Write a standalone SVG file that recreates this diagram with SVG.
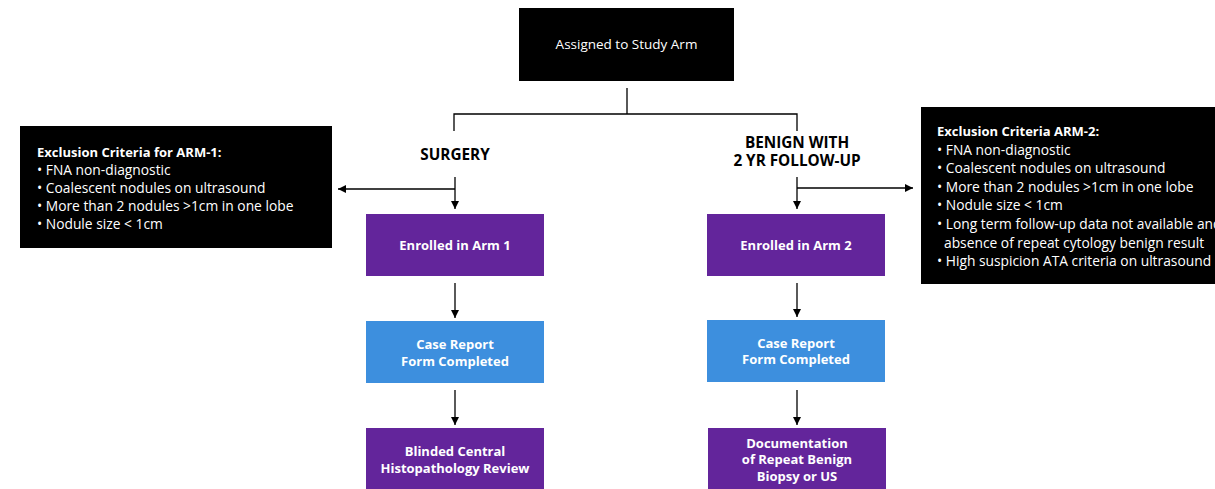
<svg xmlns="http://www.w3.org/2000/svg" width="1215" height="489" viewBox="0 0 1215 489">
<defs>
<marker id="ah" markerWidth="8" markerHeight="8" refX="8" refY="4" orient="auto" markerUnits="userSpaceOnUse"><path d="M0,0 L8,4 L0,8 Z" fill="#000"/></marker>
<style>
.blk{fill:#000}
.pur{fill:#63259b}
.blu{fill:#3d8fde}
.t{font-family:"Open Sans","Liberation Sans",Arial,sans-serif;font-size:13px;fill:#fff}
.e{font-size:13.8px}
.b{font-weight:bold;font-size:13px}
.c{text-anchor:middle}
.h{font-family:"Open Sans","Liberation Sans",Arial,sans-serif;font-size:15.3px;font-weight:bold;fill:#000;text-anchor:middle}
.ln{stroke:#000;stroke-width:1.3;fill:none}
</style>
</defs>
<rect width="1215" height="489" fill="#fff"/>
<g id="connectors">
<path class="ln" d="M627,88 V114 M454,131 V114 H797 V131"/>
<path class="ln" d="M455,177 V209" marker-end="url(#ah)"/>
<path class="ln" d="M455,189 H338" marker-end="url(#ah)"/>
<path class="ln" d="M797,177 V209" marker-end="url(#ah)"/>
<path class="ln" d="M797,188 H913" marker-end="url(#ah)"/>
<path class="ln" d="M455,283 V318" marker-end="url(#ah)"/>
<path class="ln" d="M455,390 V425" marker-end="url(#ah)"/>
<path class="ln" d="M797,283 V317" marker-end="url(#ah)"/>
<path class="ln" d="M797,390 V425" marker-end="url(#ah)"/>
</g>
<g id="assigned">
<rect class="blk" x="519" y="8" width="215" height="73"/>
<text class="t c" x="626.5" y="49" style="font-size:13.5px">Assigned to Study Arm</text>
</g>
<g id="surgery"><text class="h" x="455" y="160">SURGERY</text></g>
<g id="benign"><text class="h" x="797" y="148">BENIGN WITH</text><text class="h" x="797" y="166">2 YR FOLLOW-UP</text></g>
<g id="excl1">
<rect class="blk" x="20" y="126" width="312" height="122"/>
<text class="t e" x="37" y="157"><tspan class="b">Exclusion Criteria for ARM-1:</tspan><tspan x="37" y="175">• FNA non-diagnostic</tspan><tspan x="37" y="193">• Coalescent nodules on ultrasound</tspan><tspan x="37" y="211">• More than 2 nodules &gt;1cm in one lobe</tspan><tspan x="37" y="229">• Nodule size &lt; 1cm</tspan></text>
</g>
<g id="excl2">
<rect class="blk" x="921" y="107" width="300" height="177"/>
<text class="t e" x="937" y="136"><tspan class="b">Exclusion Criteria ARM-2:</tspan><tspan x="937" y="155">• FNA non-diagnostic</tspan><tspan x="937" y="173">• Coalescent nodules on ultrasound</tspan><tspan x="937" y="192">• More than 2 nodules &gt;1cm in one lobe</tspan><tspan x="937" y="210">• Nodule size &lt; 1cm</tspan><tspan x="937" y="229">• Long term follow-up data not available and</tspan><tspan x="944" y="248">absence of repeat cytology benign result</tspan><tspan x="937" y="266">• High suspicion ATA criteria on ultrasound</tspan></text>
</g>
<g id="enrolled1"><rect class="pur" x="366" y="214" width="178" height="62"/><text class="t b c" x="455" y="250">Enrolled in Arm 1</text></g>
<g id="enrolled2"><rect class="pur" x="707" y="214" width="178" height="62"/><text class="t b c" x="796" y="250">Enrolled in Arm 2</text></g>
<g id="crf1"><rect class="blu" x="366" y="321" width="178" height="62"/><text class="t b c" x="455" y="349">Case Report</text><text class="t b c" x="455" y="366">Form Completed</text></g>
<g id="crf2"><rect class="blu" x="707" y="320" width="178" height="62"/><text class="t b c" x="796" y="348">Case Report</text><text class="t b c" x="796" y="364">Form Completed</text></g>
<g id="blinded"><rect class="pur" x="366" y="428" width="178" height="61"/><text class="t b c" x="455" y="456">Blinded Central</text><text class="t b c" x="455" y="473">Histopathology Review</text></g>
<g id="documentation"><rect class="pur" x="708" y="428" width="178" height="61"/><text class="t b c" x="797" y="448">Documentation</text><text class="t b c" x="797" y="464">of Repeat Benign</text><text class="t b c" x="797" y="481">Biopsy or US</text></g>
</svg>
